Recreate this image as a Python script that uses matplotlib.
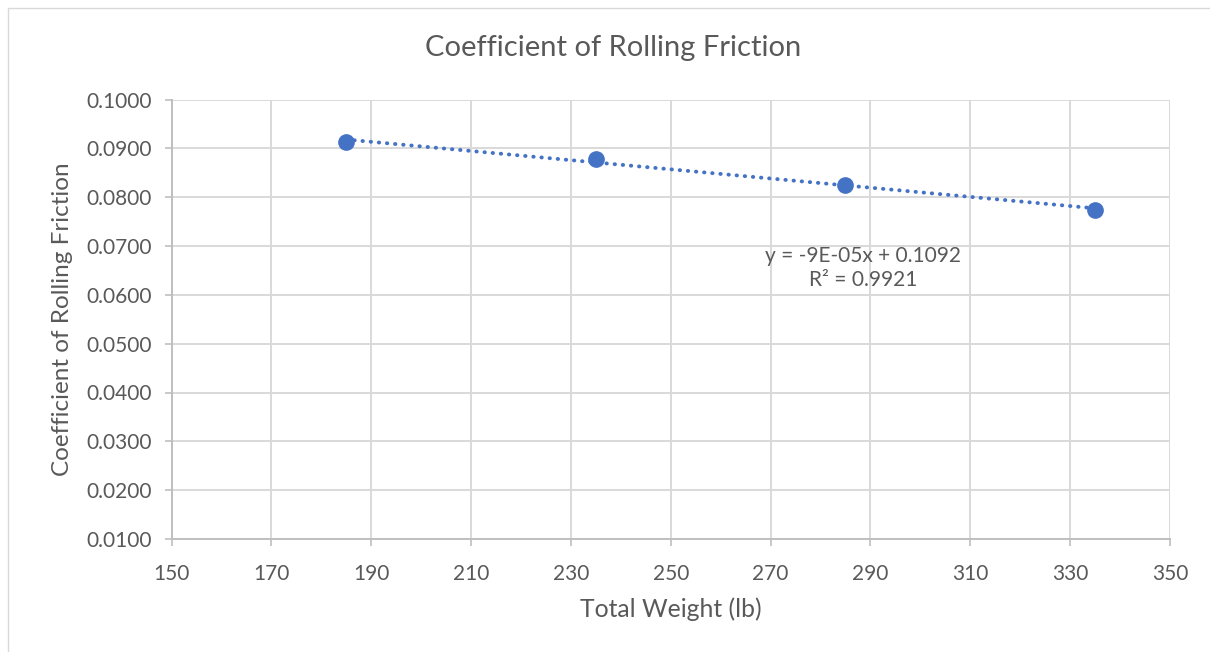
import matplotlib.pyplot as plt
from matplotlib.patches import Rectangle
from matplotlib.ticker import FormatStrFormatter
import numpy as np

# measured runs: total weight vs rolling friction coefficient
weight_lb = [185, 235, 285, 335]
crr = [0.09130, 0.08784, 0.08247, 0.07743]

x_ticks = [150, 170, 190, 210, 230, 250, 270, 290, 310, 330, 350]
y_ticks = [0.01, 0.02, 0.03, 0.04, 0.05, 0.06, 0.07, 0.08, 0.09, 0.10]

BLUE = '#4472C4'
GRID = '#d9d9d9'
TEXT = '#595959'

plt.rcParams['font.family'] = ['Lato', 'DejaVu Sans']

fig = plt.figure(figsize=(12.1, 6.52), dpi=100)
ax = fig.add_axes([171.5 / 1210, 1 - 539 / 652, (1170 - 171.5) / 1210, (539 - 99.5) / 652])

# linear trendline over the data range
x = np.array(weight_lb, dtype=float)
y = np.array(crr)
slope, icpt = np.polyfit(x, y, 1)
fit = slope * x + icpt
r2 = 1 - np.sum((y - fit) ** 2) / np.sum((y - y.mean()) ** 2)

ax.plot(x, fit, color=BLUE, lw=2.8, linestyle=(0, (0.1, 2.0)),
        dash_capstyle='round', zorder=3)
ax.plot(x, y, 'o', color=BLUE, ms=11, zorder=4)

eq = f'y = {slope:.0E}x + {icpt:.4f}\nR² = {r2:.4f}'
ax.text(288.5, 0.0655, eq, ha='center', va='center', fontsize=15,
        color=TEXT, linespacing=1.25)

ax.set_xlim(150, 350)
ax.set_ylim(0.01, 0.10)
ax.set_xticks(x_ticks)
ax.set_yticks(y_ticks)
ax.yaxis.set_major_formatter(FormatStrFormatter('%.4f'))
ax.grid(True, color=GRID, lw=1.4)
ax.set_axisbelow(True)

for side in ['top', 'right']:
    ax.spines[side].set_visible(False)
for side in ['left', 'bottom']:
    ax.spines[side].set_color('#bfbfbf')
    ax.spines[side].set_linewidth(1.4)
ax.tick_params(axis='both', colors='#bfbfbf', length=5, width=1.2, labelcolor=TEXT,
               labelsize=15)
ax.tick_params(axis='y', pad=9)
ax.tick_params(axis='x', pad=13)

ax.set_xlabel('Total Weight (lb)', fontsize=17.8, color=TEXT, labelpad=10)
ax.set_ylabel('Coefficient of Rolling Friction', fontsize=17.5, color=TEXT, labelpad=10)
fig.text(613 / 1210, 1 - 48 / 652, 'Coefficient of Rolling Friction', fontsize=21,
         color=TEXT, ha='center', va='center')

# chart area border
fig.patches.append(Rectangle((8 / 1210, -0.01), 1.1, 1 - 8 / 652 + 0.01,
                             transform=fig.transFigure, fill=False,
                             edgecolor='#d9d9d9', lw=1.0))

fig.savefig('out.png', dpi=100)
